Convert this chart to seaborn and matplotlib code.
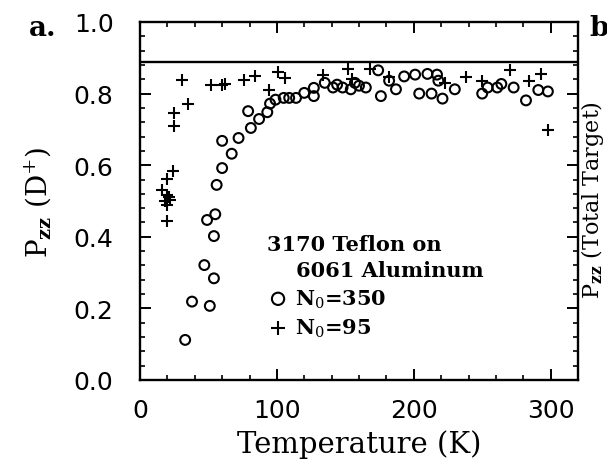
import matplotlib
matplotlib.use("Agg")
import matplotlib.pyplot as plt
import seaborn as sns
import numpy as np

# ---- data ----
temp_n350 = [33, 38, 47, 51, 54, 54, 49, 55, 56, 60, 67, 60, 72, 81, 79, 87, 93, 95, 99,
             105, 109, 114, 120, 127, 127, 135, 141, 144, 148, 154, 157, 160, 165, 174, 176,
             182, 187, 193, 201, 204, 210, 213, 217, 218, 221, 230, 250, 254, 261, 264,
             273, 282, 291, 298]
pzz_n350 = [0.112, 0.219, 0.321, 0.207, 0.284, 0.402, 0.447, 0.463, 0.545, 0.592, 0.632,
            0.668, 0.676, 0.704, 0.751, 0.729, 0.748, 0.772, 0.783, 0.788, 0.788, 0.788,
            0.802, 0.793, 0.816, 0.830, 0.817, 0.825, 0.817, 0.812, 0.830, 0.822, 0.817,
            0.865, 0.793, 0.836, 0.812, 0.848, 0.853, 0.800, 0.855, 0.800, 0.853, 0.836,
            0.786, 0.812, 0.800, 0.817, 0.817, 0.827, 0.817, 0.781, 0.810, 0.806]

temp_n95 = [16, 18, 19.5, 20, 21, 22, 19.5, 19.5, 24.4, 24.9, 24.9, 31, 35, 52, 60, 62,
            76, 84, 94, 101, 106, 134, 152, 155, 168, 182, 223, 238, 250, 270, 284, 293, 298]
pzz_n95 = [0.530, 0.500, 0.561, 0.490, 0.510, 0.502, 0.516, 0.445, 0.583, 0.746, 0.709,
           0.837, 0.772, 0.823, 0.823, 0.828, 0.837, 0.849, 0.810, 0.860, 0.844, 0.851,
           0.870, 0.841, 0.870, 0.846, 0.831, 0.846, 0.836, 0.865, 0.836, 0.855, 0.698]

total_target_level = 0.889

legend_title = "3170 Teflon on\n    6061 Aluminum"
label_n350 = r"N$_0$=350"
label_n95 = r"N$_0$=95"

sns.set_style("ticks")
plt.rcParams['font.family'] = ['DejaVu Serif']
plt.rcParams['mathtext.fontset'] = 'dejavuserif'
for k in ['text.color', 'axes.labelcolor', 'xtick.color', 'ytick.color', 'axes.edgecolor']:
    plt.rcParams[k] = 'black'

fig = plt.figure(figsize=(6.07, 4.60), dpi=100)
ax = fig.add_axes([140/607, 79/460, 438/607, 358/460])

sns.scatterplot(x=temp_n350, y=pzz_n350, ax=ax, marker='o', s=50,
                facecolor='none', edgecolor='black', linewidth=1.5, label=label_n350)
sns.scatterplot(x=temp_n95, y=pzz_n95, ax=ax, marker='+', s=70,
                color='black', linewidth=1.5, label=label_n95)

ax.axhline(total_target_level, color='black', lw=1.7)

ax.set_xlim(0, 320)
ax.set_ylim(0, 1.0)
ax.set_xticks([0, 100, 200, 300])
ax.set_xticks(np.arange(0, 321, 20), minor=True)
ax.set_yticks([0.0, 0.2, 0.4, 0.6, 0.8, 1.0])
ax.set_yticks(np.arange(0, 1.001, 0.04), minor=True)
ax.set_yticklabels(["0.0", "0.2", "0.4", "0.6", "0.8", "1.0"])
ax.tick_params(which='both', direction='in', top=True, right=True, color='black',
               labelcolor='black')
ax.tick_params(which='major', length=8, width=1.4)
ax.tick_params(which='minor', length=3.5, width=1.2)
ax.tick_params(axis='x', which='major', pad=13)
ax.tick_params(axis='y', which='major', pad=19)
for lab in ax.get_xticklabels() + ax.get_yticklabels():
    lab.set_fontfamily('DejaVu Sans')
    lab.set_fontsize(18)
for sp in ax.spines.values():
    sp.set_linewidth(1.7)
    sp.set_color('black')

ax.set_xlabel("Temperature (K)", fontsize=21, labelpad=5)
ax.set_ylabel(r"P$_{\mathbf{zz}}$ (D$^{+}$)", fontsize=20, labelpad=14)

leg = ax.legend(title=legend_title, loc='upper left', bbox_to_anchor=(0.27, 0.43),
                frameon=False, handletextpad=0.25, handlelength=1.1, labelspacing=0.35,
                borderaxespad=0, markerscale=1.25, prop={'size': 15, 'weight': 'bold'},
                title_fontproperties={'size': 15, 'weight': 'bold'})
leg._legend_box.align = "left"
leg.get_title().set_linespacing(1.35)

fig.text(29/607, 1 - 28/460, "a.", fontsize=20, fontweight='bold', va='center', ha='left')
fig.text(589/607, 1 - 28/460, "b", fontsize=20, fontweight='bold', va='center', ha='left')
fig.text(606/607, 1 - 200/460, r"P$_{\mathbf{zz}}$ (Total Target)", fontsize=16,
         rotation=90, va='center', ha='right')

fig.savefig("out.png", dpi=100)
